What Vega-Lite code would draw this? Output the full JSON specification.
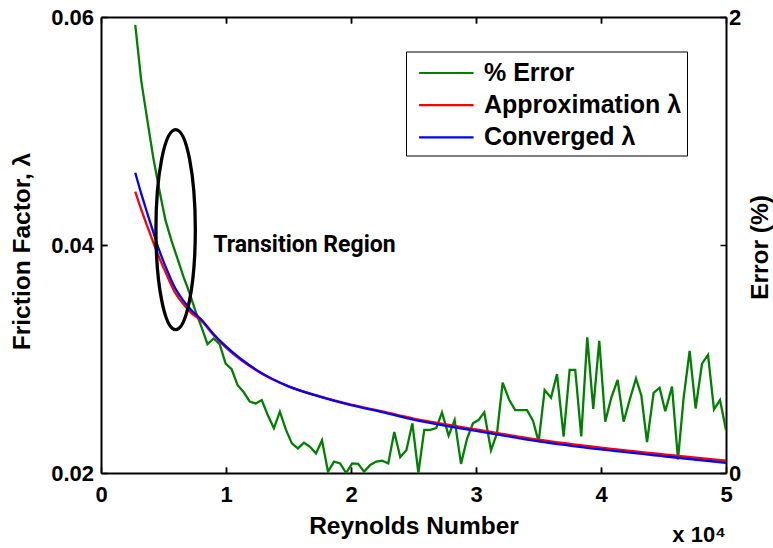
{
  "$schema": "https://vega.github.io/schema/vega-lite/v6.json",
  "width": 625,
  "height": 456,
  "autosize": {"type": "none"},
  "padding": {"left": 101, "top": 17, "right": 47, "bottom": 75},
  "background": "white",
  "title": {"text": "x 10⁴", "orient": "bottom", "anchor": "end", "frame": "group", "font": "Liberation Sans", "fontWeight": "bold", "fontSize": 22, "color": "black", "offset": -13},
  "config": {
    "view": {"stroke": null},
    "axis": {
      "labelFont": "Liberation Sans", "labelFontWeight": "bold", "labelFontSize": 22, "labelColor": "black",
      "titleFont": "Liberation Sans", "titleFontWeight": "bold", "titleFontSize": 24.5, "titleColor": "black",
      "domainColor": "black", "domainWidth": 2, "tickColor": "black", "tickWidth": 1.5, "tickSize": -6,
      "grid": false, "labelFlush": false, "labelOverlap": false, "labelBound": false
    }
  },
  "datasets": {
    "error": [
      {"x": 0.274, "err": 1.965}, {"x": 0.322, "err": 1.72}, {"x": 0.370, "err": 1.55}, {"x": 0.419, "err": 1.38},
      {"x": 0.467, "err": 1.24}, {"x": 0.515, "err": 1.11}, {"x": 0.563, "err": 1.02}, {"x": 0.612, "err": 0.94},
      {"x": 0.660, "err": 0.86}, {"x": 0.708, "err": 0.79}, {"x": 0.756, "err": 0.71}, {"x": 0.804, "err": 0.64},
      {"x": 0.852, "err": 0.565}, {"x": 0.901, "err": 0.59}, {"x": 0.949, "err": 0.565}, {"x": 0.997, "err": 0.48},
      {"x": 1.045, "err": 0.455}, {"x": 1.093, "err": 0.385}, {"x": 1.141, "err": 0.355}, {"x": 1.190, "err": 0.313},
      {"x": 1.238, "err": 0.305}, {"x": 1.286, "err": 0.32}, {"x": 1.334, "err": 0.254}, {"x": 1.383, "err": 0.196},
      {"x": 1.431, "err": 0.269}, {"x": 1.479, "err": 0.19}, {"x": 1.527, "err": 0.13}, {"x": 1.575, "err": 0.108},
      {"x": 1.624, "err": 0.133}, {"x": 1.672, "err": 0.115}, {"x": 1.720, "err": 0.086}, {"x": 1.768, "err": 0.144},
      {"x": 1.816, "err": 0.006}, {"x": 1.864, "err": 0.05}, {"x": 1.913, "err": 0.042}, {"x": 1.961, "err": 0.0},
      {"x": 2.009, "err": 0.042}, {"x": 2.057, "err": 0.04}, {"x": 2.105, "err": 0.006}, {"x": 2.154, "err": 0.035},
      {"x": 2.202, "err": 0.05}, {"x": 2.250, "err": 0.054}, {"x": 2.298, "err": 0.042}, {"x": 2.346, "err": 0.18},
      {"x": 2.394, "err": 0.07}, {"x": 2.443, "err": 0.10}, {"x": 2.491, "err": 0.218}, {"x": 2.539, "err": 0.0},
      {"x": 2.586, "err": 0.189}, {"x": 2.634, "err": 0.189}, {"x": 2.682, "err": 0.197}, {"x": 2.728, "err": 0.266},
      {"x": 2.781, "err": 0.164}, {"x": 2.829, "err": 0.232}, {"x": 2.880, "err": 0.04}, {"x": 2.928, "err": 0.15},
      {"x": 2.976, "err": 0.218}, {"x": 3.020, "err": 0.232}, {"x": 3.066, "err": 0.266}, {"x": 3.120, "err": 0.10},
      {"x": 3.168, "err": 0.174}, {"x": 3.213, "err": 0.396}, {"x": 3.266, "err": 0.32}, {"x": 3.314, "err": 0.276},
      {"x": 3.360, "err": 0.276}, {"x": 3.408, "err": 0.276}, {"x": 3.456, "err": 0.229}, {"x": 3.501, "err": 0.137},
      {"x": 3.549, "err": 0.364}, {"x": 3.600, "err": 0.33}, {"x": 3.648, "err": 0.434}, {"x": 3.701, "err": 0.16},
      {"x": 3.749, "err": 0.452}, {"x": 3.794, "err": 0.452}, {"x": 3.842, "err": 0.16}, {"x": 3.890, "err": 0.595},
      {"x": 3.938, "err": 0.281}, {"x": 3.986, "err": 0.58}, {"x": 4.034, "err": 0.225}, {"x": 4.082, "err": 0.33},
      {"x": 4.133, "err": 0.408}, {"x": 4.181, "err": 0.225}, {"x": 4.229, "err": 0.32}, {"x": 4.280, "err": 0.415},
      {"x": 4.323, "err": 0.339}, {"x": 4.368, "err": 0.136}, {"x": 4.421, "err": 0.352}, {"x": 4.469, "err": 0.374},
      {"x": 4.514, "err": 0.271}, {"x": 4.568, "err": 0.379}, {"x": 4.616, "err": 0.06}, {"x": 4.661, "err": 0.33},
      {"x": 4.709, "err": 0.536}, {"x": 4.757, "err": 0.283}, {"x": 4.808, "err": 0.48}, {"x": 4.856, "err": 0.518},
      {"x": 4.904, "err": 0.279}, {"x": 4.952, "err": 0.32}, {"x": 5.000, "err": 0.189}
    ],
    "friction": [
      {"x": 0.274, "f": 0.04468, "series": "Approximation λ"}, {"x": 0.322, "f": 0.04310, "series": "Approximation λ"},
      {"x": 0.370, "f": 0.04165, "series": "Approximation λ"}, {"x": 0.419, "f": 0.04020, "series": "Approximation λ"},
      {"x": 0.467, "f": 0.03885, "series": "Approximation λ"}, {"x": 0.515, "f": 0.03765, "series": "Approximation λ"},
      {"x": 0.594, "f": 0.03580, "series": "Approximation λ"}, {"x": 0.660, "f": 0.03480, "series": "Approximation λ"},
      {"x": 0.722, "f": 0.03405, "series": "Approximation λ"}, {"x": 0.808, "f": 0.03330, "series": "Approximation λ"},
      {"x": 0.900, "f": 0.03210, "series": "Approximation λ"}, {"x": 1.000, "f": 0.03100, "series": "Approximation λ"},
      {"x": 1.250, "f": 0.02895, "series": "Approximation λ"}, {"x": 1.500, "f": 0.02760, "series": "Approximation λ"},
      {"x": 1.750, "f": 0.02672, "series": "Approximation λ"}, {"x": 2.000, "f": 0.02600, "series": "Approximation λ"},
      {"x": 2.250, "f": 0.02540, "series": "Approximation λ"}, {"x": 2.500, "f": 0.02478, "series": "Approximation λ"},
      {"x": 2.750, "f": 0.02428, "series": "Approximation λ"}, {"x": 3.000, "f": 0.02382, "series": "Approximation λ"},
      {"x": 3.500, "f": 0.02292, "series": "Approximation λ"}, {"x": 4.000, "f": 0.02222, "series": "Approximation λ"},
      {"x": 4.500, "f": 0.02163, "series": "Approximation λ"}, {"x": 5.000, "f": 0.02108, "series": "Approximation λ"},
      {"x": 0.274, "f": 0.04634, "series": "Converged λ"}, {"x": 0.322, "f": 0.04450, "series": "Converged λ"},
      {"x": 0.370, "f": 0.04280, "series": "Converged λ"}, {"x": 0.419, "f": 0.04110, "series": "Converged λ"},
      {"x": 0.467, "f": 0.03950, "series": "Converged λ"}, {"x": 0.515, "f": 0.03815, "series": "Converged λ"},
      {"x": 0.594, "f": 0.03620, "series": "Converged λ"}, {"x": 0.660, "f": 0.03510, "series": "Converged λ"},
      {"x": 0.722, "f": 0.03430, "series": "Converged λ"}, {"x": 0.808, "f": 0.03340, "series": "Converged λ"},
      {"x": 0.900, "f": 0.03220, "series": "Converged λ"}, {"x": 1.000, "f": 0.03110, "series": "Converged λ"},
      {"x": 1.250, "f": 0.02900, "series": "Converged λ"}, {"x": 1.500, "f": 0.02760, "series": "Converged λ"},
      {"x": 1.750, "f": 0.02670, "series": "Converged λ"}, {"x": 2.000, "f": 0.02595, "series": "Converged λ"},
      {"x": 2.250, "f": 0.02533, "series": "Converged λ"}, {"x": 2.500, "f": 0.02468, "series": "Converged λ"},
      {"x": 2.750, "f": 0.02416, "series": "Converged λ"}, {"x": 3.000, "f": 0.02370, "series": "Converged λ"},
      {"x": 3.500, "f": 0.02278, "series": "Converged λ"}, {"x": 4.000, "f": 0.02207, "series": "Converged λ"},
      {"x": 4.500, "f": 0.02147, "series": "Converged λ"}, {"x": 5.000, "f": 0.02090, "series": "Converged λ"}
    ],
    "notes": [
      {"x": 0.597, "f": 0.04134, "label": "Transition Region", "tx": 0.898, "tf": 0.0394}
    ]
  },
  "layer": [
    {
      "data": {"name": "error"},
      "transform": [{"calculate": "'% Error'", "as": "series"}],
      "mark": {"type": "line", "strokeWidth": 2.3, "clip": true},
      "encoding": {
        "x": {"field": "x", "type": "quantitative", "scale": {"domain": [0, 5], "nice": false, "zero": false},
              "axis": {"values": [0, 1, 2, 3, 4, 5], "format": "d", "orient": "bottom", "title": "Reynolds Number", "labelPadding": 17, "titleY": 60, "titleBaseline": "alphabetic"}},
        "y": {"field": "err", "type": "quantitative", "scale": {"domain": [0, 2], "nice": false},
              "axis": {"orient": "right", "values": [0, 1, 2], "format": "d", "title": "Error (%)", "labelPadding": 8.5, "titleAngle": 270, "titleX": 34, "titleY": 230, "titleBaseline": "middle", "titleAlign": "center"}},
        "color": {"field": "series", "type": "nominal",
                  "scale": {"domain": ["% Error", "Approximation λ", "Converged λ"], "range": ["#008000", "#ff0000", "#0000ff"]},
                  "legend": {"title": null, "orient": "none", "legendX": 305, "legendY": 34.5, "direction": "vertical",
                             "strokeColor": "black", "fillColor": "white", "padding": 5, "labelLimit": 400,
                             "labelFont": "Liberation Sans", "labelFontWeight": "bold", "labelFontSize": 25, "labelColor": "black",
                             "symbolType": "M-0.56,0H3.07", "symbolSize": 900, "symbolStrokeWidth": 2.2, "labelOffset": 40, "rowPadding": 2.2}}
      }
    },
    {
      "data": {"name": "friction"},
      "mark": {"type": "line", "strokeWidth": 2.3, "interpolate": "monotone"},
      "encoding": {
        "x": {"field": "x", "type": "quantitative", "scale": {"domain": [0, 5], "nice": false, "zero": false},
              "axis": {"values": [0, 1, 2, 3, 4, 5], "orient": "top", "labels": false, "title": null}},
        "y": {"field": "f", "type": "quantitative", "scale": {"domain": [0.02, 0.06], "nice": false, "zero": false},
              "axis": {"orient": "left", "values": [0.02, 0.04, 0.06], "format": ".2f", "title": "Friction Factor, λ", "labelPadding": 13.5, "titleAngle": 270, "titleX": -79, "titleY": 234, "titleBaseline": "middle", "titleAlign": "center"}},
        "color": {"field": "series", "type": "nominal",
                  "scale": {"domain": ["% Error", "Approximation λ", "Converged λ"], "range": ["#008000", "#ff0000", "#0000ff"]},
                  "legend": {"title": null, "orient": "none", "legendX": 305, "legendY": 34.5, "direction": "vertical",
                             "strokeColor": "black", "fillColor": "white", "padding": 5, "labelLimit": 400,
                             "labelFont": "Liberation Sans", "labelFontWeight": "bold", "labelFontSize": 25, "labelColor": "black",
                             "symbolType": "M-0.56,0H3.07", "symbolSize": 900, "symbolStrokeWidth": 2.2, "labelOffset": 40, "rowPadding": 2.2}}
      }
    },
    {
      "data": {"name": "notes"},
      "mark": {"type": "point", "shape": "M0,-1A0.197,1,0,1,1,0,1A0.197,1,0,1,1,0,-1Z", "size": 40000, "filled": false, "color": "black", "strokeWidth": 3.3, "opacity": 1},
      "encoding": {
        "x": {"field": "x", "type": "quantitative", "scale": {"domain": [0, 5], "nice": false, "zero": false},
              "axis": {"orient": "bottom", "values": [1, 2, 3, 4], "domain": false, "labels": false, "title": null, "ticks": true, "tickSize": 6, "offset": -6}},
        "y": {"field": "f", "type": "quantitative", "scale": {"domain": [0.02, 0.06], "nice": false, "zero": false},
              "axis": {"orient": "left", "values": [0.04], "domain": false, "labels": false, "title": null, "ticks": true, "tickSize": 6, "offset": -6}}
      }
    },
    {
      "data": {"name": "notes"},
      "mark": {"type": "text", "font": "Roboto", "fontWeight": "bold", "fontSize": 23, "align": "left", "baseline": "alphabetic", "color": "black"},
      "encoding": {
        "x": {"field": "tx", "type": "quantitative", "scale": {"domain": [0, 5], "nice": false, "zero": false},
              "axis": {"orient": "top", "values": [1, 2, 3, 4], "domain": false, "labels": false, "title": null, "ticks": true, "tickSize": 6, "offset": -6}},
        "y": {"field": "tf", "type": "quantitative", "scale": {"domain": [0.02, 0.06], "nice": false, "zero": false},
              "axis": {"orient": "right", "values": [0.04], "domain": false, "labels": false, "title": null, "ticks": true, "tickSize": 6, "offset": -6}},
        "text": {"field": "label"}
      }
    }
  ],
  "resolve": {"scale": {"y": "independent"}, "axis": {"x": "independent"}}
}
